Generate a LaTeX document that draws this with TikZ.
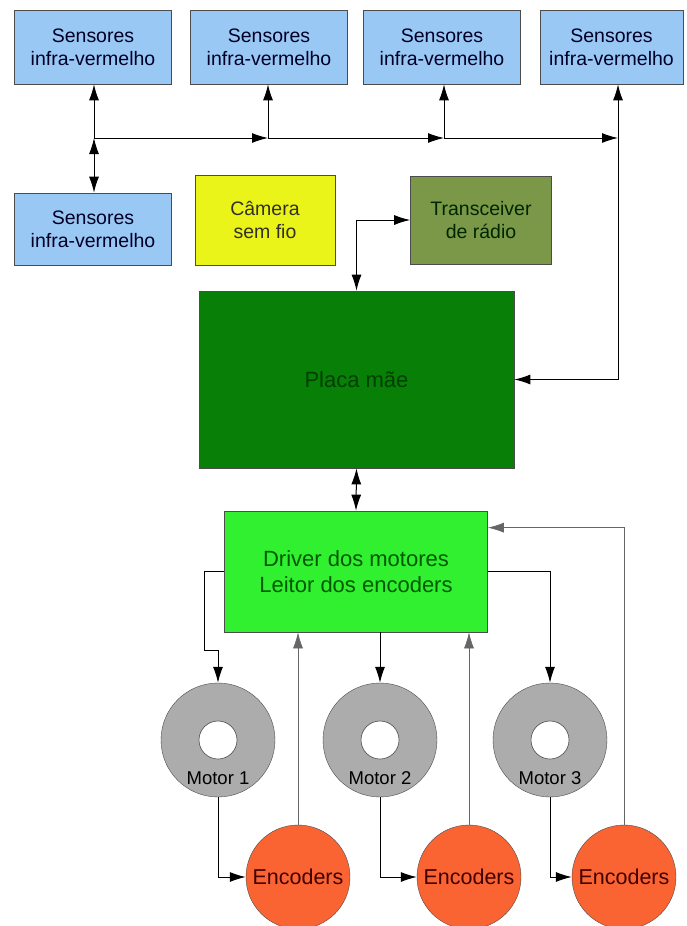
\documentclass[tikz,border=0pt]{standalone}
\usepackage{fontspec}
\setmainfont{Liberation Sans}
\usetikzlibrary{arrows.meta,positioning,shapes}

\definecolor{sensorblue}{RGB}{153,200,245}
\definecolor{camyellow}{RGB}{234,244,24}
\definecolor{radiogreen}{RGB}{122,152,72}
\definecolor{boardgreen}{RGB}{8,128,8}
\definecolor{drivergreen}{RGB}{48,240,48}
\definecolor{motorgray}{RGB}{172,172,172}
\definecolor{encred}{RGB}{250,100,50}

\tikzset{
  blk/.style={draw=black!70, line width=0.7pt, align=center, inner sep=0pt,
    font=\fontsize{19.5}{23}\selectfont},
  sensorbox/.style={blk, fill=sensorblue, text=black!85!blue,
    minimum width=157pt, minimum height=74pt},
  motor/.style={circle, draw=black!70, fill=motorgray, minimum size=114pt},
  encoder/.style={circle, draw=black!70, fill=encred, minimum size=104pt,
    inner sep=0pt, text=black!75!red, font=\fontsize{21.5}{24}\selectfont},
  arr/.style={line width=1pt, -{Latex[length=16pt,width=10pt]}},
  dbl/.style={line width=1pt, {Latex[length=16pt,width=10pt]}-{Latex[length=16pt,width=10pt]}},
  fb/.style={line width=0.7pt, black!60, -{Latex[length=16pt,width=10pt]}}
}

\begin{document}
\begin{tikzpicture}[x=1pt,y=-1pt]
  \useasboundingbox[fill=white] (0,0) rectangle (686,926);
  % infra-red sensors
  \node[sensorbox] (s1) at (93,47)  {Sensores\\infra-vermelho};
  \node[sensorbox] (s2) at (269,47) {Sensores\\infra-vermelho};
  \node[sensorbox] (s3) at (442,47) {Sensores\\infra-vermelho};
  \node[sensorbox, minimum width=143pt] (s4) at (611.5,47) {Sensores\\infra-vermelho};
  \node[sensorbox, minimum height=72pt] (s5) at (93,229) {Sensores\\infra-vermelho};
  % camera and radio
  \node[blk, fill=camyellow, text=black!85!olive, minimum width=140pt, minimum height=90pt]
    (cam) at (265,220) {Câmera\\sem fio};
  \node[blk, fill=radiogreen, text=black!85!green, minimum width=141pt, minimum height=88pt]
    (radio) at (481,220) {Transceiver\\de rádio};
  % boards
  \node[blk, fill=boardgreen, text=black!75!green, minimum width=315pt, minimum height=177pt,
    font=\fontsize{22}{25}\selectfont] (board) at (356.5,379.5) {Placa mãe};
  \node[blk, fill=drivergreen, text=black!65!green, minimum width=263pt, minimum height=121pt,
    font=\fontsize{22}{26}\selectfont] (driver) at (356,571.5)
    {Driver dos motores\\Leitor dos encoders};
  % motors
  \foreach \n/\x in {1/218, 2/380, 3/550} {
    \node[motor] (m\n) at (\x,740) {};
    \fill[white, draw=black!70, line width=0.6pt] (m\n.center) circle (19);
    \node[font=\fontsize{18.5}{20}\selectfont] (ml\n) at ([yshift=-38pt]m\n.center) {Motor \n};
  }
  % encoders
  \node[encoder] (e1) at (298,877) {Encoders};
  \node[encoder] (e2) at (469,877) {Encoders};
  \node[encoder] (e3) at (624,877) {Encoders};
  % sensor bus
  \coordinate (b1) at (94,138);
  \coordinate (b2) at (268,138);
  \coordinate (b3) at (444,138);
  \coordinate (b4) at (618,138);
  \draw[arr] (b1) -- (b1 |- s1.south);
  \draw[dbl] (b1) -- (b1 |- s5.north);
  \draw[arr] (b1) -- (b2);
  \draw[arr] (b2) -- (b3);
  \draw[arr] (b3) -- (b4);
  \draw[arr] (b2) -- (b2 |- s2.south);
  \draw[arr] (b3) -- (b3 |- s3.south);
  \draw[arr] (b4) -- (b4 |- s4.south);
  \draw[arr] (b4) |- (board.east);
  % board links
  \draw[dbl] (board.north) |- (radio.west);
  \draw[dbl] (board.south) -- (driver.north);
  % driver to motors
  \draw[arr] (driver.west) -| (204,650) -| (m1.north);
  \draw[arr] (m2.north |- driver.south) -- (m2.north);
  \draw[arr] (driver.east) -| (m3.north);
  % motors to encoders
  \draw[arr] (m1.south) |- (e1.west);
  \draw[arr] (m2.south) |- (e2.west);
  \draw[arr] (m3.south) |- (e3.west);
  % encoder feedback
  \draw[fb] (e1.north) -- (e1.north |- driver.south);
  \draw[fb] (e2.north) -- (e2.north |- driver.south);
  \draw[fb] (e3.north) |- ([yshift=-17pt]driver.north east);
\end{tikzpicture}
\end{document}
